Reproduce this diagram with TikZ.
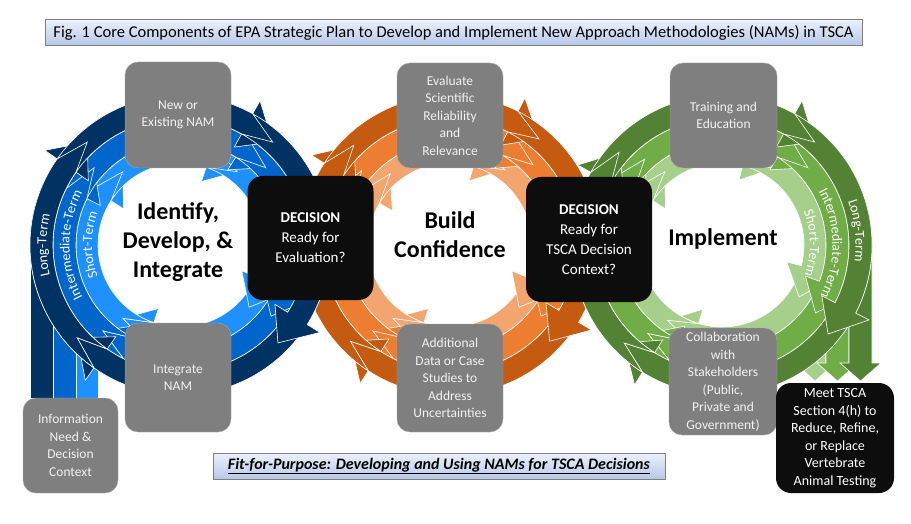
\documentclass[tikz,border=0pt]{standalone}
\usepackage{fontspec}
\setmainfont{Carlito}
\usepackage{tikz}
\usetikzlibrary{decorations.text}

\definecolor{bluedark}{RGB}{0,50,100}
\definecolor{bluemid}{RGB}{0,102,204}
\definecolor{bluelight}{RGB}{30,144,255}
\definecolor{ordark}{RGB}{197,90,17}
\definecolor{ormid}{RGB}{237,125,49}
\definecolor{orlight}{RGB}{243,165,112}
\definecolor{grdark}{RGB}{84,130,53}
\definecolor{grmid}{RGB}{112,173,71}
\definecolor{grlight}{RGB}{166,207,140}
\definecolor{boxgray}{RGB}{127,127,127}
\definecolor{boxtext}{RGB}{242,242,242}
\definecolor{boxblack}{RGB}{13,13,13}
\definecolor{bannertop}{RGB}{236,241,250}
\definecolor{bannerbot}{RGB}{182,200,232}

% one curved arrow piece of a loop: centre x, centre y, inner r, outer r, previous tip, tip, colour
\newcommand{\ringseg}[7]{%
  \pgfmathsetmacro\rmidv{(#3+#4)/2}%
  \pgfmathsetmacro\hdlen{1800/\rmidv}%
  \pgfmathsetmacro\segstart{#5-\hdlen}%
  \pgfmathsetmacro\headbase{#6-\hdlen}%
  \pgfmathsetmacro\rlo{#3-15}%
  \pgfmathsetmacro\rhi{#4+15}%
  \filldraw[fill=#7, draw=white, line width=0.6pt, shift={(#1,#2)}]
    (\segstart:#4) arc[start angle=\segstart, end angle=\headbase, radius=#4]
    -- (\headbase:\rhi) -- (#6:\rmidv) -- (\headbase:\rlo) -- (\headbase:#3)
    arc[start angle=\headbase, end angle=\segstart, radius=#3] -- (#5:\rmidv) -- cycle;
}
\newcommand{\ringband}[6]{\foreach \prv/\tp in {#6}{\ringseg{#1}{#2}{#3}{#4}{\prv}{\tp}{#5}}}
% white label along a band
\newcommand{\bandlabel}[6]{%
  \path[shift={(#1,#2)}, decorate, decoration={text along path, text align=center,
    text={|\color{white}\fontsize{14}{14}\selectfont|#6}}]
    (#4:#3) arc[start angle=#4, end angle=#5, radius=#3];
}

\tikzset{
  graybox/.style={draw=gray!70, fill=boxgray, rounded corners=13pt, text=boxtext, align=center,
    font=\fontsize{13.5}{17.5}\selectfont, inner sep=2pt},
  blackbox/.style={fill=boxblack, rounded corners=15pt, text=white, align=center, inner sep=2pt},
  bigtext/.style={align=center, font=\bfseries\fontsize{24}{29}\selectfont},
  banner/.style={draw=gray, top color=bannertop, bottom color=bannerbot, inner sep=0pt}
}

\begin{document}
\begin{tikzpicture}[x=1pt,y=1pt,yscale=-1]
\useasboundingbox (0,0) rectangle (911,524);

%Orange loop
\ringband{450}{245}{82}{104}{orlight}{-232/128, 128/230, 230/306, 306/402}
\ringband{450}{245}{104}{127}{ormid}{-222/132, 132/220, 220/316, 316/398}
\ringband{450}{245}{127}{150}{ordark}{-224/136, 136/226, 226/310, 310/404}

%Blue stems from the information box
\filldraw[fill=bluelight, draw=white, line width=0.6pt] (76,245) rectangle (98,398);
\filldraw[fill=bluemid, draw=white, line width=0.6pt] (53,245) rectangle (76,398);
\filldraw[fill=bluedark, draw=white, line width=0.6pt] (30,245) rectangle (53,398);
%Blue loop
\ringband{180}{245}{82}{104}{bluelight}{-232/128, 128/232, 232/308, 308/402}
\ringband{180}{245}{104}{127}{bluemid}{-228/132, 132/222, 222/318, 318/398}
\ringband{180}{245}{127}{150}{bluedark}{-222/138, 138/228, 228/312, 312/405}

%Green stems down to the TSCA box
\filldraw[fill=grlight, draw=white, line width=0.6pt] (804,245) -- (804,363) -- (795,363) -- (815,381) -- (835,363) -- (826,363) -- (826,245) -- cycle;
\filldraw[fill=grmid, draw=white, line width=0.6pt] (826,245) -- (826,363) -- (817,363) -- (837.5,381) -- (858,363) -- (849,363) -- (849,245) -- cycle;
\filldraw[fill=grdark, draw=white, line width=0.6pt] (849,245) -- (849,363) -- (840,363) -- (860.5,381) -- (881,363) -- (872,363) -- (872,245) -- cycle;
%Green loop
\ringband{722}{245}{82}{104}{grlight}{-234/126, 126/232, 232/304, 304/394}
\ringband{722}{245}{104}{127}{grmid}{-230/130, 130/228, 228/318, 318/396}
\ringband{722}{245}{127}{150}{grdark}{-225/135, 135/222, 222/312, 312/400}

%Band labels
\bandlabel{180}{245}{133.5}{140}{220}{Long-Term}
\bandlabel{180}{245}{110.5}{115}{245}{Intermediate-Term}
\bandlabel{180}{245}{88}{130}{230}{Short-Term}
\bandlabel{722}{245}{133.5}{-48}{36}{Long-Term}
\bandlabel{722}{245}{110.5}{-62}{60}{Intermediate-Term}
\bandlabel{722}{245}{88}{-50}{48}{Short-Term}

%Rounded Rect
\draw (178,115) node [graybox, minimum width=106pt, minimum height=106pt] (newnam) {New or\\Existing NAM};
\draw (178,377.5) node [graybox, minimum width=106pt, minimum height=109pt] (intnam) {Integrate\\NAM};
\draw (70.5,445.5) node [graybox, minimum width=95pt, minimum height=95pt] (infoneed) {Information\\Need \&\\Decision\\Context};
\draw (450,115.5) node [graybox, minimum width=106pt, minimum height=105pt] (evalsci) {Evaluate\\Scientific\\Reliability\\and\\Relevance};
\draw (450,378) node [graybox, minimum width=106pt, minimum height=108pt] (adddata) {Additional\\Data or Case\\Studies to\\Address\\Uncertainties};
\draw (723.5,115.5) node [graybox, minimum width=107pt, minimum height=105pt] (training) {Training and\\Education};
\draw (723,381.5) node [graybox, minimum width=108pt, minimum height=107pt] (collab) {Collaboration\\with\\Stakeholders\\(Public,\\Private and\\Government)};

%Decision boxes
\draw (310.5,238) node [blackbox, minimum width=126pt, minimum height=124pt, font=\fontsize{15}{20}\selectfont] (dec1) {\textbf{DECISION}\\Ready for\\Evaluation?};
\draw (589,239.5) node [blackbox, minimum width=126pt, minimum height=125pt, font=\fontsize{15}{20}\selectfont] (dec2) {\textbf{DECISION}\\Ready for\\TSCA Decision\\Context?};
\draw (835,438) node [blackbox, minimum width=118pt, minimum height=110pt, font=\fontsize{14}{17.5}\selectfont] (meettsca) {Meet TSCA\\Section 4(h) to\\Reduce, Refine,\\or Replace\\Vertebrate\\Animal Testing};

% Text Node
\draw (178,242) node [bigtext] (identify) {Identify,\\Develop, \&\\Integrate};
\draw (450,235) node [bigtext] (build) {Build\\Confidence};
\draw (723,239) node [bigtext] (implement) {Implement};

%Title and footer
\draw (453.5,32.5) node [banner, minimum width=817pt, minimum height=26pt, font=\fontsize{16.5}{18}\selectfont] (title) {Fig. 1 Core Components of EPA Strategic Plan to Develop and Implement New Approach Methodologies (NAMs) in TSCA};
\draw (439,466) node [banner, minimum width=452pt, minimum height=26pt, font=\bfseries\itshape\fontsize{16}{18}\selectfont] (fitpurpose) {\underline{Fit-for-Purpose: Developing and Using NAMs for TSCA Decisions}};
\end{tikzpicture}
\end{document}
